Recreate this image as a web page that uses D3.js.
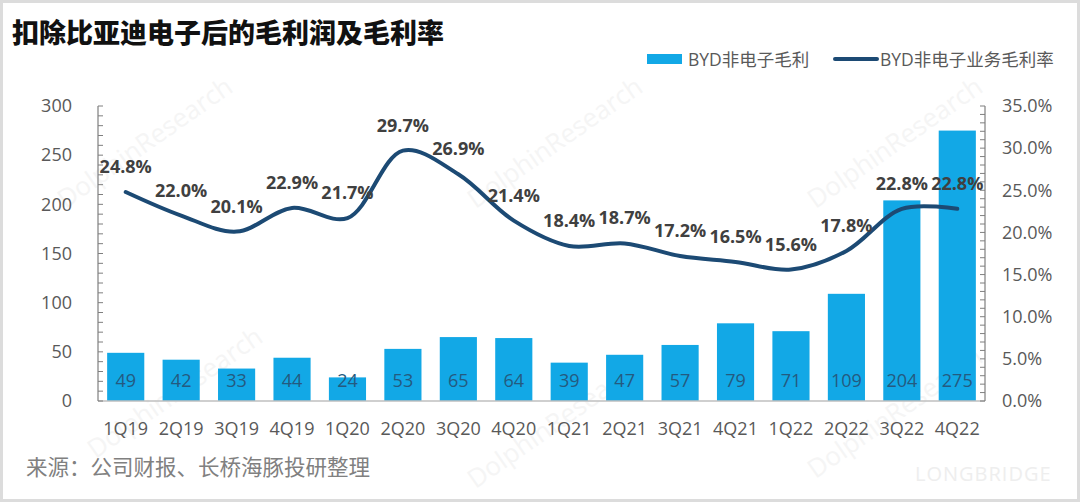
<!DOCTYPE html>
<html>
<head>
<meta charset="utf-8">
<script src="https://cdn.jsdelivr.net/npm/d3@7"></script>
<style>
  html, body { margin: 0; padding: 0; background: #fff; }
  svg { display: block; font-family: "Open Sans", "Noto Sans CJK SC", sans-serif; }
</style>
</head>
<body>
<svg id="chart"></svg>
<script>
// data
const quarters = ["1Q19","2Q19","3Q19","4Q19","1Q20","2Q20","3Q20","4Q20",
                  "1Q21","2Q21","3Q21","4Q21","1Q22","2Q22","3Q22","4Q22"];
const grossProfit = [49, 42, 33, 44, 24, 53, 65, 64, 39, 47, 57, 79, 71, 109, 204, 275];
const grossMargin = [24.8, 22.0, 20.1, 22.9, 21.7, 29.7, 26.9, 21.4, 18.4, 18.7, 17.2, 16.5, 15.6, 17.8, 22.8, 22.8];
const leftTicks = [0, 50, 100, 150, 200, 250, 300];
const rightTicks = [0, 5, 10, 15, 20, 25, 30, 35];

const width = 1080, height = 502;
const margin = { top: 106, right: 95, bottom: 101, left: 98 };

const svg = d3.select("#chart")
    .attr("width", width)
    .attr("height", height);

// light frame around the picture
svg.append("rect")
    .attr("x", 1.5).attr("y", 1.5)
    .attr("width", width - 3).attr("height", height - 3)
    .attr("fill", "#fff")
    .attr("stroke", "#dcdcdc")
    .attr("stroke-width", 3);

// faint watermarks
const marks = [
    [150, 150, "DolphinResearch"], [560, 150, "DolphinResearch"], [900, 150, "DolphinResearch"],
    [180, 400, "DolphinResearch"], [560, 430, "DolphinResearch"], [900, 420, "DolphinResearch"]
];
svg.append("g")
    .selectAll("text")
    .data(marks)
    .enter()
    .append("text")
    .attr("transform", d => `translate(${d[0]},${d[1]}) rotate(-35)`)
    .attr("text-anchor", "middle")
    .attr("fill", "#f5f5f5")
    .style("font-size", "26px")
    .text(d => d[2]);

svg.append("text")
    .attr("x", 915).attr("y", 481)
    .attr("fill", "#eeeeee")
    .style("font-size", "20px")
    .style("letter-spacing", "1px")
    .text("LONGBRIDGE");

const x = d3.scaleBand()
    .domain(quarters)
    .range([margin.left, width - margin.right])
    .paddingInner(0.33)
    .paddingOuter(0.165);

const yLeft = d3.scaleLinear()
    .domain([0, 300])
    .range([height - margin.bottom, margin.top]);

const yRight = d3.scaleLinear()
    .domain([0, 35])
    .range([height - margin.bottom, margin.top]);

// title
svg.append("text")
    .attr("x", 12).attr("y", 43)
    .attr("fill", "#111")
    .style("font-family", "'Noto Sans CJK SC', sans-serif")
    .style("font-size", "27px")
    .style("font-weight", 900)
    .text("扣除比亚迪电子后的毛利润及毛利率");

// legend
const legend = svg.append("g").style("font-size", "17.5px").attr("fill", "#595959");
legend.append("rect")
    .attr("x", 647).attr("y", 54).attr("width", 35).attr("height", 10)
    .attr("fill", "#12a8e6");
legend.append("text").attr("x", 688).attr("y", 66).text("BYD非电子毛利");
legend.append("line")
    .attr("x1", 835).attr("x2", 877).attr("y1", 59).attr("y2", 59)
    .attr("stroke", "#1c4a74").attr("stroke-width", 4).attr("stroke-linecap", "round");
legend.append("text").attr("x", 880).attr("y", 66).text("BYD非电子业务毛利率");

// bars
svg.selectAll(".bar")
    .data(grossProfit)
    .enter()
    .append("rect")
    .attr("class", "bar")
    .attr("x", (_, i) => x(quarters[i]))
    .attr("y", d => yLeft(d))
    .attr("width", x.bandwidth())
    .attr("height", d => yLeft(0) - yLeft(d))
    .attr("fill", "#12a8e6");

// bar values inside the bars
svg.selectAll(".barLabel")
    .data(grossProfit)
    .enter()
    .append("text")
    .attr("class", "barLabel")
    .attr("x", (_, i) => x(quarters[i]) + x.bandwidth() / 2)
    .attr("y", 387)
    .attr("text-anchor", "middle")
    .attr("fill", "#245a80")
    .style("font-size", "18px")
    .text(d => d);

// baseline
svg.append("line")
    .attr("x1", margin.left).attr("x2", width - margin.right)
    .attr("y1", yLeft(0)).attr("y2", yLeft(0))
    .attr("stroke", "#bfbfbf").attr("stroke-width", 1.5);

// left axis with minor ticks every 10
const leftAxis = svg.append("g")
    .attr("transform", `translate(${margin.left},0)`);
leftAxis.append("line")
    .attr("y1", yLeft(0)).attr("y2", yLeft(300))
    .attr("stroke", "#7f7f7f").attr("stroke-width", 1.2);
leftAxis.selectAll(".minor")
    .data(d3.range(0, 301, 10))
    .enter()
    .append("line")
    .attr("x1", 0).attr("x2", 5)
    .attr("y1", d => yLeft(d)).attr("y2", d => yLeft(d))
    .attr("stroke", "#7f7f7f").attr("stroke-width", 1);
leftAxis.selectAll(".lbl")
    .data(leftTicks)
    .enter()
    .append("text")
    .attr("x", -26)
    .attr("y", d => yLeft(d))
    .attr("dy", "0.35em")
    .attr("text-anchor", "end")
    .attr("fill", "#595959")
    .style("font-size", "18px")
    .text(d => d);

// right axis with minor ticks every 1%
const rightAxis = svg.append("g")
    .attr("transform", `translate(${width - margin.right},0)`);
rightAxis.append("line")
    .attr("y1", yRight(0)).attr("y2", yRight(35))
    .attr("stroke", "#7f7f7f").attr("stroke-width", 1.2);
rightAxis.selectAll(".minor")
    .data(d3.range(0, 36, 1))
    .enter()
    .append("line")
    .attr("x1", -5).attr("x2", 0)
    .attr("y1", d => yRight(d)).attr("y2", d => yRight(d))
    .attr("stroke", "#7f7f7f").attr("stroke-width", 1);
rightAxis.selectAll(".lbl")
    .data(rightTicks)
    .enter()
    .append("text")
    .attr("x", 17)
    .attr("y", d => yRight(d))
    .attr("dy", "0.35em")
    .attr("fill", "#595959")
    .style("font-size", "18px")
    .text(d => d.toFixed(1) + "%");

// x labels
svg.selectAll(".xLabel")
    .data(quarters)
    .enter()
    .append("text")
    .attr("class", "xLabel")
    .attr("x", d => x(d) + x.bandwidth() / 2)
    .attr("y", 435)
    .attr("text-anchor", "middle")
    .attr("fill", "#595959")
    .style("font-size", "18px")
    .text(d => d);

// margin line, smoothed
const line = d3.line()
    .x((_, i) => x(quarters[i]) + x.bandwidth() / 2)
    .y(d => yRight(d))
    .curve(d3.curveCatmullRom.alpha(0.5));

svg.append("path")
    .datum(grossMargin)
    .attr("fill", "none")
    .attr("stroke", "#1c4a74")
    .attr("stroke-width", 4)
    .attr("stroke-linecap", "round")
    .attr("d", line);

// margin labels above the points
svg.selectAll(".pctLabel")
    .data(grossMargin)
    .enter()
    .append("text")
    .attr("class", "pctLabel")
    .attr("x", (_, i) => x(quarters[i]) + x.bandwidth() / 2)
    .attr("y", d => yRight(d) - 19)
    .attr("text-anchor", "middle")
    .attr("fill", "#404040")
    .style("font-size", "18px")
    .style("font-weight", "bold")
    .text(d => d.toFixed(1) + "%");

// source
svg.append("text")
    .attr("x", 26).attr("y", 475)
    .attr("fill", "#808080")
    .style("font-family", "'Noto Sans CJK SC', sans-serif")
    .style("font-size", "21.5px")
    .text("来源：公司财报、长桥海豚投研整理");
</script>
</body>
</html>
